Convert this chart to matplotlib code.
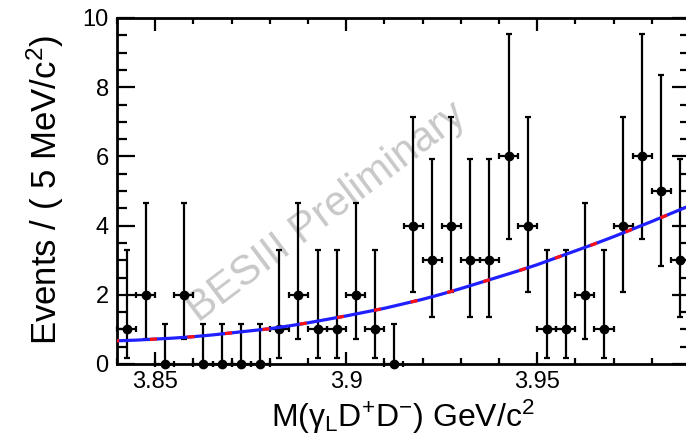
import numpy as np
import matplotlib.pyplot as plt
from matplotlib.ticker import MultipleLocator, FixedLocator, FuncFormatter

plt.rcParams['font.family'] = ['Liberation Sans', 'DejaVu Sans']
plt.rcParams['mathtext.fontset'] = 'custom'
plt.rcParams['mathtext.rm'] = 'Liberation Sans'
plt.rcParams['mathtext.it'] = 'Liberation Sans:italic'
plt.rcParams['mathtext.bf'] = 'Liberation Sans:bold'

# histogram binning: 3.84 - 3.99 GeV/c2, 5 MeV bins
x_lo, x_hi, bin_w = 3.84, 3.99, 0.005

# events per bin
counts = [1, 2, 0, 2, 0, 0, 0, 0, 1, 2,
          1, 1, 2, 1, 0, 4, 3, 4, 3, 3,
          6, 4, 1, 1, 2, 1, 4, 6, 5, 3]

# asymmetric Poisson error bar ends, indexed by number of events
err_low_end = [0.0, 0.17, 0.71, 1.37, 2.09, 2.84, 3.62]
err_high_end = [1.15, 3.30, 4.64, 5.92, 7.15, 8.35, 9.55]

# fitted background shape
fit_x = [3.840, 3.845, 3.850, 3.855, 3.860, 3.865, 3.870, 3.875, 3.880, 3.885,
         3.890, 3.895, 3.900, 3.905, 3.910, 3.915, 3.920, 3.925, 3.930, 3.935,
         3.940, 3.945, 3.950, 3.955, 3.960, 3.965, 3.970, 3.975, 3.980, 3.985,
         3.990]
fit_y = [0.67, 0.69, 0.72, 0.75, 0.79, 0.84, 0.90, 0.96, 1.02, 1.10,
         1.19, 1.29, 1.39, 1.50, 1.61, 1.74, 1.87, 2.02, 2.18, 2.35,
         2.52, 2.69, 2.87, 3.07, 3.27, 3.47, 3.68, 3.90, 4.12, 4.35,
         4.58]

counts = np.array(counts)
centers = x_lo + bin_w * (np.arange(len(counts)) + 0.5)
y_lo = np.array([err_low_end[n] for n in counts])
y_hi = np.array([err_high_end[n] for n in counts])

fig = plt.figure(figsize=(6.86, 4.43), dpi=100)
ax = fig.add_axes([117 / 686, 79 / 443, 573 / 686, 346 / 443])

# watermark, behind the data
ax.text(327 / 686, 1 - 213 / 443, 'BESIII Preliminary', transform=fig.transFigure,
        rotation=37, rotation_mode='anchor', ha='center', va='center',
        fontsize=30, color='#c8c8c8', zorder=1)

# data points
ax.errorbar(centers, counts, xerr=bin_w / 2, yerr=[counts - y_lo, y_hi - counts],
            fmt='o', color='black', ms=6, elinewidth=1.6, capsize=2, capthick=1.6,
            clip_on=False, zorder=3)

# fit curve: blue total with red dashed component on top
ax.plot(fit_x, fit_y, color='#2020ff', lw=2.3, zorder=4)
ax.plot(fit_x, fit_y, color='#ff1010', lw=2.3, ls=(1.5, (2.2, 9.6)), zorder=5)

ax.set_xlim(x_lo, x_hi)
ax.set_ylim(0, 10)

ax.xaxis.set_major_locator(FixedLocator([3.85, 3.90, 3.95]))
ax.xaxis.set_minor_locator(MultipleLocator(0.01))
ax.xaxis.set_major_formatter(FuncFormatter(lambda v, p: '%g' % round(v, 3)))
ax.yaxis.set_major_locator(MultipleLocator(2))
ax.yaxis.set_minor_locator(MultipleLocator(0.5))

for s in ax.spines.values():
    s.set_linewidth(2)

ax.tick_params(which='both', direction='in', top=True, right=True, width=1.6)
ax.tick_params(axis='x', which='major', length=9, pad=5, labelsize=17)
ax.tick_params(axis='x', which='minor', length=4.5)
ax.tick_params(axis='y', which='major', length=13, pad=6, labelsize=17)
ax.tick_params(axis='y', which='minor', length=7)

fig.text(45 / 686, 1 - 190 / 443, 'Events / ( 5 MeV/c$^{2}$)', rotation=90,
         ha='center', va='center', fontsize=25)
fig.text(403 / 686, 1 - 427 / 443,
         r'M(γ$_{\mathrm{L}}$D$^{+}$D$^{-}$) GeV/c$^{2}$',
         ha='center', va='baseline', fontsize=23)

fig.savefig('out.png', dpi=100)
